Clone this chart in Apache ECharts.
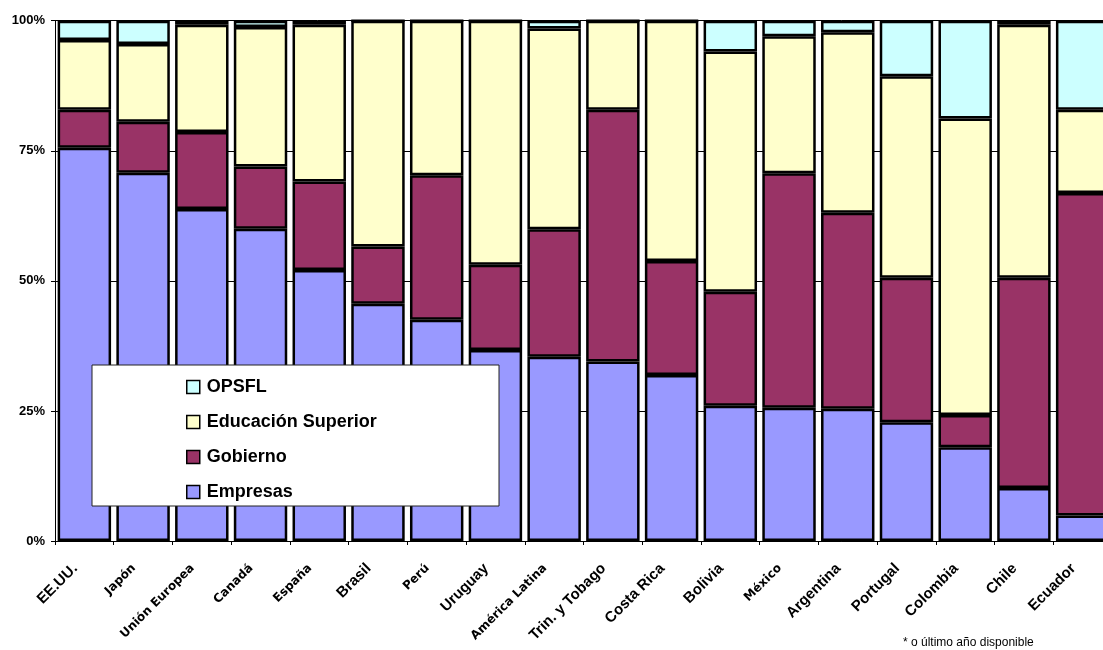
<!DOCTYPE html>
<html>
<head>
<meta charset="utf-8">
<script src="https://cdn.jsdelivr.net/npm/echarts@6/dist/echarts.min.js"></script>
<style>
  html, body { margin: 0; padding: 0; background: #fff; }
  #chart { width: 1103px; height: 650px; }
</style>
</head>
<body>
<div id="chart"></div>
<script>
// Categories (countries / regions)
const countries = ['EE.UU.', 'Japón', 'Unión Europea', 'Canadá', 'España', 'Brasil', 'Perú', 'Uruguay',
  'América Latina', 'Trin. y Tobago', 'Costa Rica', 'Bolivia', 'México', 'Argentina', 'Portugal',
  'Colombia', 'Chile', 'Ecuador'];

// Share of R&D expenditure by sector (%)
const empresas  = [75.6, 70.8, 63.8, 60.0, 52.1, 45.6, 42.5, 36.7, 35.4, 34.5, 31.9, 26.0, 25.6, 25.4, 22.8, 18.0, 10.2, 4.9];
const gobierno  = [7.3, 9.8, 14.8, 12.0, 17.0, 11.0, 27.8, 16.4, 24.5, 48.4, 21.9, 21.9, 45.1, 37.7, 27.8, 6.2, 40.4, 62.0];
const educacion = [13.4, 14.9, 20.6, 26.8, 30.1, 43.4, 29.7, 46.9, 38.6, 17.1, 46.2, 46.2, 26.3, 34.7, 38.7, 57.0, 48.6, 16.0];
const opsfl     = [3.7, 4.5, 0.8, 1.2, 0.8, 0, 0, 0, 1.5, 0, 0, 5.9, 3.0, 2.2, 10.7, 18.8, 0.8, 17.1];

// Value axis ticks (%)
const yTicks = [0, 25, 50, 75, 100];

const footnote = '* o último año disponible';

const chart = echarts.init(document.getElementById('chart'), null, { renderer: 'canvas' });

const barBorder = { borderColor: '#000', borderWidth: 2.5 };

function barSeries(name, data, color) {
  return {
    name: name,
    type: 'bar',
    stack: 'total',
    data: data,
    barCategoryGap: '9%',
    itemStyle: Object.assign({ color: color }, barBorder),
    emphasis: { disabled: true }
  };
}

const option = {
  animation: false,
  backgroundColor: '#fff',
  title: {
    text: footnote,
    left: 903,
    top: 637,
    padding: 0,
    textStyle: { fontFamily: 'Liberation Sans', fontSize: 12, fontWeight: 'normal', color: '#000' }
  },
  // plot area runs a little past the right edge of the page
  grid: { left: 55, width: 1057, top: 20.7, bottom: 109, containLabel: false, outerBoundsMode: 'none' },
  xAxis: {
    type: 'category',
    data: countries,
    axisLine: { lineStyle: { color: '#000', width: 1 } },
    axisTick: { show: true, length: 4, lineStyle: { color: '#000' } },
    axisLabel: {
      interval: 0,
      rotate: 45,
      margin: 16,
      padding: [0, 13, 0, 0],
      color: '#000',
      formatter: function (v) {
        return /[áéíóúñ]/i.test(v) ? '{a|' + v + '}' : '{b|' + v + '}';
      },
      rich: {
        a: { fontFamily: 'DejaVu Sans', fontSize: 12, fontWeight: 'bold', color: '#000' },
        b: { fontFamily: 'Liberation Sans', fontSize: 15, fontWeight: 'bold', color: '#000' }
      }
    }
  },
  yAxis: {
    type: 'value',
    min: yTicks[0],
    max: yTicks[yTicks.length - 1],
    interval: yTicks[1] - yTicks[0],
    axisLine: { show: true, lineStyle: { color: '#000', width: 1 } },
    axisTick: { show: true, length: 4, lineStyle: { color: '#000' } },
    splitLine: { show: true, lineStyle: { color: '#000', width: 1 } },
    axisLabel: {
      margin: 10,
      formatter: '{value}%',
      fontFamily: 'Liberation Sans',
      fontSize: 13,
      fontWeight: 'bold',
      color: '#000'
    }
  },
  legend: {
    data: ['OPSFL', 'Educación Superior', 'Gobierno', 'Empresas'],
    orient: 'vertical',
    left: 186,
    top: 377,
    padding: 0,
    itemGap: 15,
    itemWidth: 13,
    itemHeight: 13,
    icon: 'rect',
    z: 20,
    itemStyle: { borderColor: '#000', borderWidth: 1.5 },
    textStyle: {
      fontFamily: 'Liberation Sans',
      fontSize: 18,
      fontWeight: 'bold',
      color: '#000',
      lineHeight: 20,
      padding: [0, 0, 0, 2]
    },
    selectedMode: false
  },
  graphic: [{
    type: 'rect',
    left: 91.5,
    top: 364.5,
    z: 10,
    shape: { width: 407, height: 141 },
    style: { fill: '#fff', stroke: '#222', lineWidth: 1 }
  }],
  series: [
    barSeries('Empresas', empresas, '#9999FF'),
    barSeries('Gobierno', gobierno, '#993366'),
    barSeries('Educación Superior', educacion, '#FFFFCC'),
    barSeries('OPSFL', opsfl, '#CCFFFF')
  ]
};

chart.setOption(option);
</script>
</body>
</html>
